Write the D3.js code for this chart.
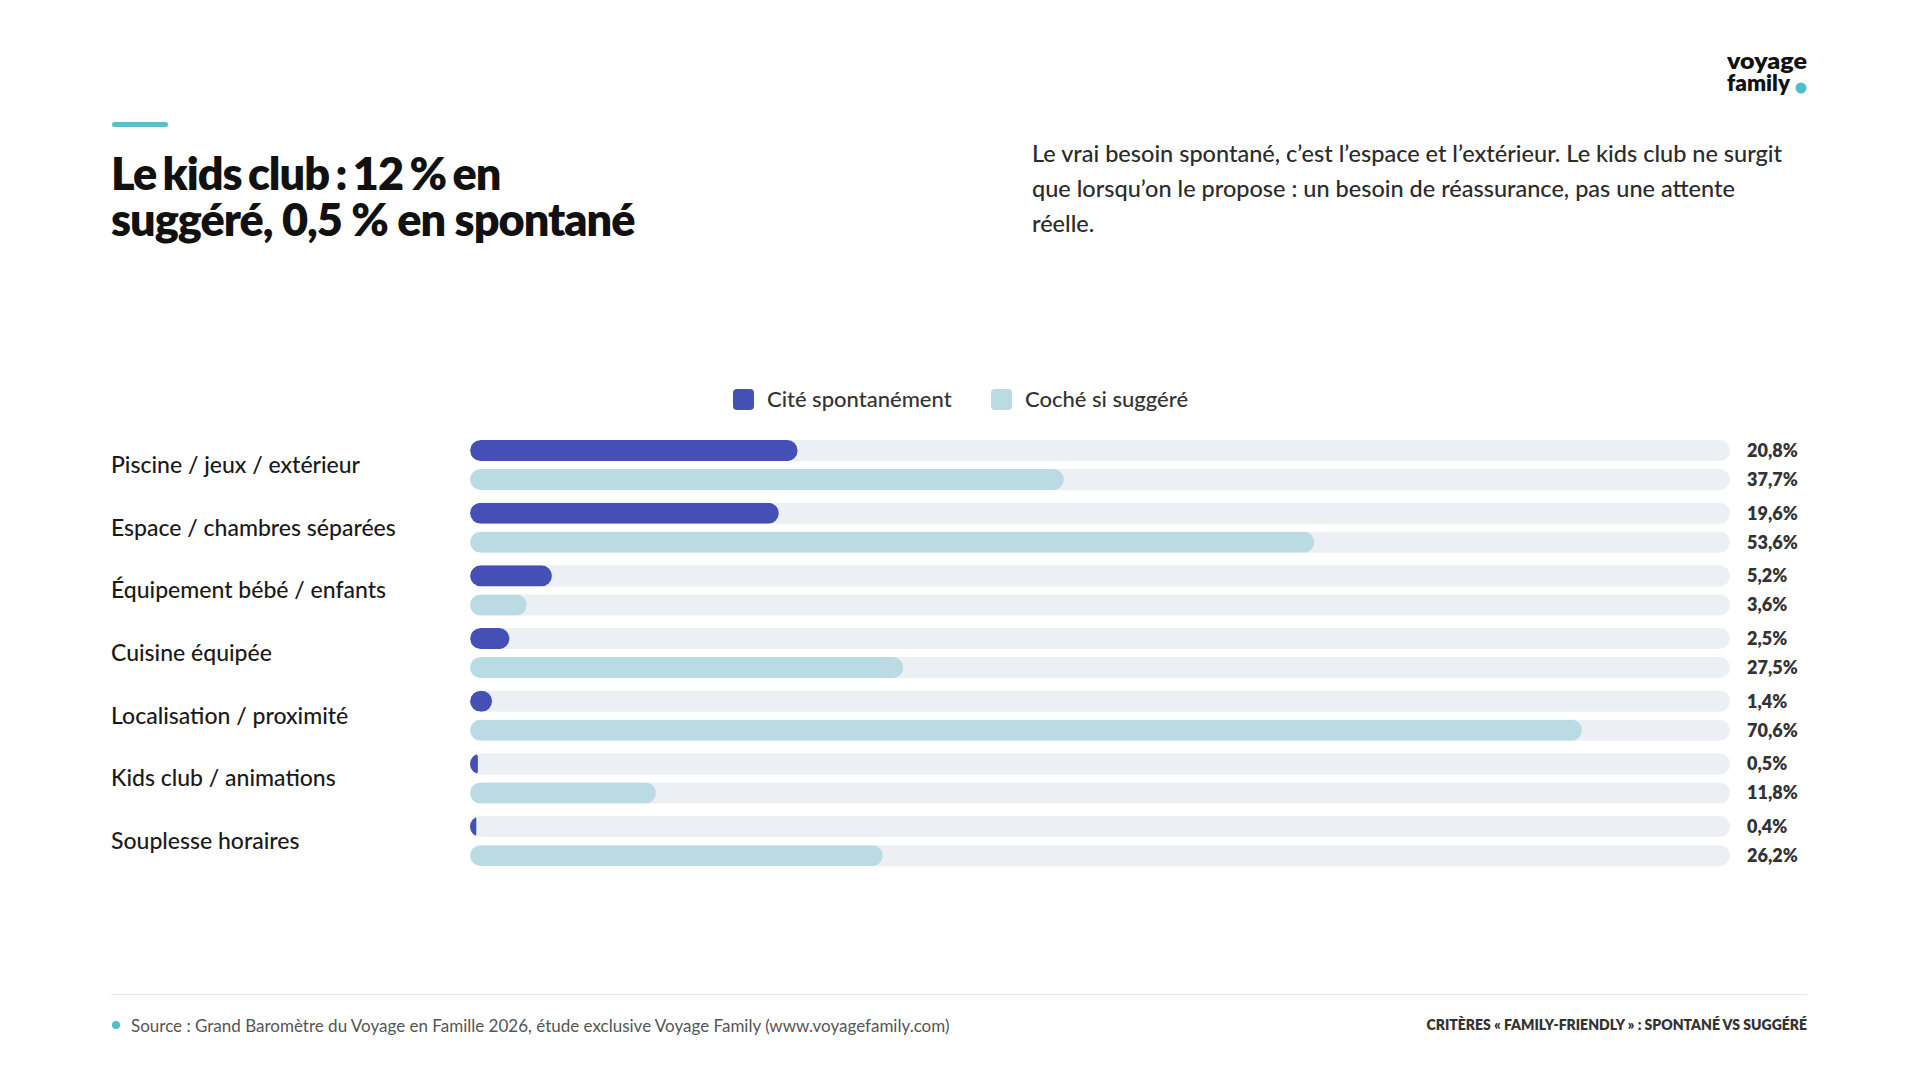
<!DOCTYPE html>
<html><head><meta charset="utf-8">
<script src="https://cdn.jsdelivr.net/npm/d3@7"></script>
<style>
html,body{margin:0;padding:0;background:#fff;}
svg{display:block;font-family:Lato,"Noto Sans",sans-serif;}
</style></head>
<body>
<svg id="chart" width="1920" height="1080"></svg>
<script>
const categories = ["Piscine / jeux / extérieur","Espace / chambres séparées","Équipement bébé / enfants","Cuisine équipée","Localisation / proximité","Kids club / animations","Souplesse horaires"];
const spontane = [20.8, 19.6, 5.2, 2.5, 1.4, 0.5, 0.4];
const suggere = [37.7, 53.6, 3.6, 27.5, 70.6, 11.8, 26.2];
const seriesNames = ["Cité spontanément","Coché si suggéré"];
const seriesColors = ["#4550b6","#badbe3"];
const titleLines = ["Le kids club : 12 % en","suggéré, 0,5 % en spontané"];
const subtitleLines = ["Le vrai besoin spontané, c’est l’espace et l’extérieur. Le kids club ne surgit","que lorsqu’on le propose : un besoin de réassurance, pas une attente","réelle."];
const sourceText = "Source : Grand Baromètre du Voyage en Famille 2026, étude exclusive Voyage Family (www.voyagefamily.com)";
const footerRight = "CRITÈRES « FAMILY-FRIENDLY » : SPONTANÉ VS SUGGÉRÉ";
const xMax = 80;

const svg = d3.select("#chart");
const fmt = v => d3.format(".1f")(v).replace(".", ",") + "%";

// accent bar
svg.append("rect").attr("x",112).attr("y",122).attr("width",56).attr("height",5).attr("rx",2.5).attr("fill","#5bbfc8");

// title
svg.append("text").attr("x",111).attr("y",190).attr("font-size",45).attr("font-weight",800).attr("fill","#111").attr("letter-spacing",-1)
  .selectAll("tspan").data(titleLines).join("tspan").attr("x",111).attr("dy",(d,i)=>i?46:0)
  .attr("word-spacing",(d,i)=>i?0:-3).text(d=>d);

// subtitle
svg.append("text").attr("x",1032).attr("y",162).attr("font-size",23.5).attr("font-weight",500).attr("fill","#2b2b2b")
  .selectAll("tspan").data(subtitleLines).join("tspan").attr("x",1032).attr("dy",(d,i)=>i?35:0).text(d=>d);

// logo
const logo = svg.append("g").attr("font-weight",800).attr("font-size",22).attr("fill","#111");
logo.append("text").attr("x",1727).attr("y",69).attr("textLength",80).attr("lengthAdjust","spacingAndGlyphs").text("voyage");
logo.append("text").attr("x",1727).attr("y",91).attr("textLength",63).attr("lengthAdjust","spacingAndGlyphs").text("family");
svg.append("circle").attr("cx",1801).attr("cy",88).attr("r",5.5).attr("fill","#4fbfc8");

// legend
const legend = svg.append("g");
const legendItems = [{x:733},{x:991}];
legendItems.forEach((it,i)=>{
  legend.append("rect").attr("x",it.x).attr("y",389).attr("width",21).attr("height",21).attr("rx",4).attr("fill",seriesColors[i]);
  legend.append("text").attr("x",it.x+34).attr("y",399).attr("dy","0.35em").attr("font-size",22).attr("font-weight",500).attr("fill","#333").text(seriesNames[i]);
});

// scales
const x = d3.scaleLinear().domain([0,xMax]).range([470,1730]);
const y = d3.scaleBand().domain(categories).range([440,866.2]).paddingInner(0.2).paddingOuter(0);
const ySub = d3.scaleBand().domain([0,1]).range([0,y.bandwidth()]).paddingInner(8/29);
const bh = ySub.bandwidth();

const rows = svg.append("g").selectAll("g").data(categories).join("g").attr("transform",d=>`translate(0,${y(d)})`);
rows.append("text").attr("x",111).attr("y",y.bandwidth()/2).attr("dy","0.35em").attr("font-size",23).attr("font-weight",500).attr("fill","#1a1a1a").text(d=>d);

const defs = svg.append("defs");
categories.forEach((c,i)=>{
  [spontane[i], suggere[i]].forEach((v,s)=>{
    const g = rows.filter((d,j)=>j===i);
    const yy = ySub(s);
    const id = `clip-${i}-${s}`;
    defs.append("clipPath").attr("id",id).append("rect")
      .attr("x",x(0)).attr("y",y(c)+yy).attr("width",x(xMax)-x(0)).attr("height",bh).attr("rx",bh/2);
    g.append("rect").attr("x",x(0)).attr("y",yy).attr("width",x(xMax)-x(0)).attr("height",bh).attr("rx",bh/2).attr("fill","#eceff3");
    const w = x(v)-x(0);
    g.append("g").attr("transform",`translate(0,${-y(c)})`).attr("clip-path",`url(#${id})`)
      .append("rect").attr("x",x(0)).attr("y",y(c)+yy).attr("width",w).attr("height",bh)
      .attr("rx",Math.min(bh/2,w/2)).attr("fill",seriesColors[s]);
    g.append("text").attr("x",1747).attr("y",yy+bh/2).attr("dy","0.35em").attr("font-size",18).attr("font-weight",800).attr("fill","#333").text(fmt(v));
  });
});

// footer
svg.append("line").attr("x1",111).attr("x2",1807).attr("y1",994.5).attr("y2",994.5).attr("stroke","#e6e6e6").attr("stroke-width",1);
svg.append("circle").attr("cx",116).attr("cy",1025).attr("r",4).attr("fill","#4fbfc8");
svg.append("text").attr("x",131).attr("y",1026).attr("dy","0.35em").attr("font-size",17).attr("fill","#555").text(sourceText);
svg.append("text").attr("x",1807).attr("y",1025).attr("dy","0.35em").attr("text-anchor","end").attr("font-size",14).attr("font-weight",800).attr("fill","#333").text(footerRight);
</script>
</body></html>
